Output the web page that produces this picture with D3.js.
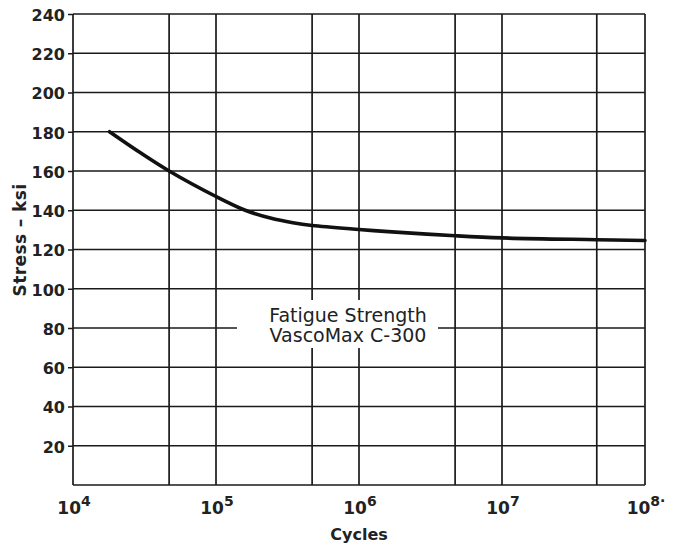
<!DOCTYPE html>
<html>
<head>
<meta charset="utf-8">
<script src="https://cdnjs.cloudflare.com/ajax/libs/d3/7.8.5/d3.min.js"></script>
<style>
  body { margin: 0; background: #fff; }
  svg { display: block; }
</style>
</head>
<body>
<svg id="chart" width="673" height="546"></svg>
<script>
// S-N curve
const cycles = [1.8e4, 3e4, 4.7e4, 1e5, 1.6e5, 2.4e5, 3.45e5, 4.7e5, 1e6, 1.7e6, 4.7e6, 1e7, 4.6e7, 1e8];
const stress = [180, 169, 160, 147, 140, 136, 133.6, 132.2, 130.2, 129, 127, 125.9, 125, 124.6];

// intermediate lines of the log paper sit a bit below 5x
const xGrid = [1e4, 4.7e4, 1e5, 4.7e5, 1e6, 4.7e6, 1e7, 4.6e7, 1e8];
const xLabels = [1e4, 1e5, 1e6, 1e7, 1e8];
const yGrid = [0, 20, 40, 60, 80, 100, 120, 140, 160, 180, 200, 220, 240];
const yLabels = [20, 40, 60, 80, 100, 120, 140, 160, 180, 200, 220, 240];
const noteLines = ["Fatigue Strength", "VascoMax C-300"];

function drawChart() {
  const svg = d3.select("#chart");
  const margin = { top: 14, right: 28, bottom: 61, left: 73 };
  const width = +svg.attr("width");
  const height = +svg.attr("height");
  const innerWidth = width - margin.left - margin.right;
  const innerHeight = height - margin.top - margin.bottom;

  const g = svg.append("g")
    .attr("transform", `translate(${margin.left}, ${margin.top})`);

  const x = d3.scaleLog().domain([1e4, 1e8]).range([0, innerWidth]);
  const y = d3.scaleLinear().domain([0, 240]).range([innerHeight, 0]);

  const ink = "#1a1a1a";
  const font = "'DejaVu Sans', sans-serif";

  // grid
  g.selectAll(".vgrid")
    .data(xGrid)
    .enter()
    .append("line")
    .attr("x1", d => x(d))
    .attr("x2", d => x(d))
    .attr("y1", 0)
    .attr("y2", innerHeight)
    .attr("stroke", ink)
    .attr("stroke-width", 1.7);

  g.selectAll(".hgrid")
    .data(yGrid)
    .enter()
    .append("line")
    .attr("x1", 0)
    .attr("x2", innerWidth)
    .attr("y1", d => y(d))
    .attr("y2", d => y(d))
    .attr("stroke", ink)
    .attr("stroke-width", 1.6);

  // white patch behind the note, gridlines stop there
  g.append("rect")
    .attr("x", 237 - margin.left)
    .attr("y", 300 - margin.top)
    .attr("width", 201)
    .attr("height", 48)
    .attr("fill", "#fff");

  // curve
  const line = d3.line()
    .x((d, i) => x(cycles[i]))
    .y(d => y(d))
    .curve(d3.curveCatmullRom.alpha(0.5));

  g.append("path")
    .datum(stress)
    .attr("d", line)
    .attr("fill", "none")
    .attr("stroke", "#111")
    .attr("stroke-width", 3.6)
    .attr("stroke-linecap", "round");

  // y axis
  const yAxis = g.append("g")
    .call(d3.axisLeft(y).tickValues(yLabels).tickSize(5).tickPadding(3));
  yAxis.select(".domain").remove();
  yAxis.selectAll("line").attr("stroke", ink).attr("stroke-width", 1.5);
  yAxis.selectAll("text")
    .attr("font-family", font)
    .attr("font-size", "16px")
    .attr("font-weight", "bold")
    .attr("fill", "#222")
    .attr("dy", "0.4em");

  // x tick labels with superscripts
  const xl = g.selectAll(".xlabel")
    .data(xLabels)
    .enter()
    .append("text")
    .attr("x", d => x(d) + 1)
    .attr("y", innerHeight + 29)
    .attr("text-anchor", "middle")
    .attr("font-family", font)
    .attr("font-weight", "bold")
    .attr("font-size", "17px")
    .attr("fill", "#222");
  xl.append("tspan").text("10");
  xl.append("tspan")
    .attr("dy", -8)
    .attr("font-size", "14px")
    .text(d => Math.round(Math.log10(d)) + (d === 1e8 ? "·" : ""));

  // axis titles
  g.append("text")
    .attr("x", x(1e6))
    .attr("y", innerHeight + 55)
    .attr("text-anchor", "middle")
    .attr("font-family", font)
    .attr("font-weight", "bold")
    .attr("font-size", "16px")
    .attr("fill", "#222")
    .text("Cycles");

  g.append("text")
    .attr("transform", "rotate(-90)")
    .attr("x", -(240 - margin.top))
    .attr("y", 26 - margin.left)
    .attr("text-anchor", "middle")
    .attr("font-family", font)
    .attr("font-weight", "bold")
    .attr("font-size", "17px")
    .attr("letter-spacing", "0.4px")
    .attr("fill", "#222")
    .text("Stress – ksi");

  // note
  g.selectAll(".note")
    .data(noteLines)
    .enter()
    .append("text")
    .attr("x", 348 - margin.left)
    .attr("y", (d, i) => 322 - margin.top + i * 20)
    .attr("text-anchor", "middle")
    .attr("font-family", font)
    .attr("font-size", "19px")
    .attr("fill", "#222")
    .text(d => d);
}

drawChart();
</script>
</body>
</html>
